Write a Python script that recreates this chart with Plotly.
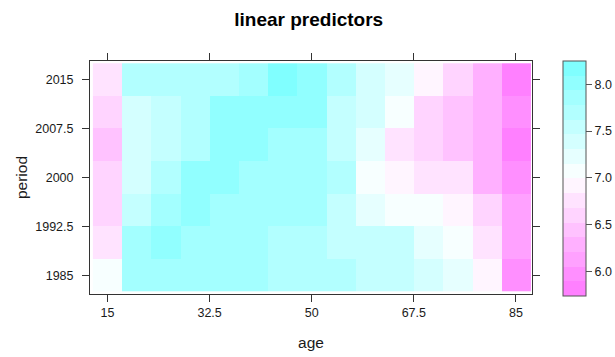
import plotly.graph_objects as go

# Age groups (columns) and periods (rows), 5-year steps
ages = [15, 20, 25, 30, 35, 40, 45, 50, 55, 60, 65, 70, 75, 80, 85]
periods = [1985, 1990, 1995, 2000, 2005, 2010, 2015]

# Linear predictor values, one list per period
lp_1985 = [7.08, 7.85, 7.86, 7.87, 7.86, 7.85, 7.71, 7.70, 7.69, 7.55, 7.54, 7.38, 7.22, 6.91, 5.97]
lp_1990 = [6.77, 7.86, 8.01, 7.85, 7.86, 7.86, 7.70, 7.69, 7.55, 7.54, 7.53, 7.23, 7.07, 6.76, 6.14]
lp_1995 = [6.61, 7.55, 7.85, 8.02, 7.86, 7.85, 7.86, 7.84, 7.54, 7.23, 7.08, 7.07, 6.92, 6.60, 6.13]
lp_2000 = [6.60, 7.39, 7.70, 8.03, 8.01, 7.86, 7.85, 7.85, 7.69, 7.07, 6.93, 6.77, 6.75, 6.29, 5.99]
lp_2005 = [6.45, 7.38, 7.54, 7.70, 8.01, 8.02, 7.85, 7.86, 7.55, 7.22, 6.76, 6.61, 6.44, 6.30, 5.80]
lp_2010 = [6.61, 7.39, 7.55, 7.71, 8.02, 8.03, 8.01, 8.02, 7.54, 7.38, 7.08, 6.60, 6.45, 6.29, 5.98]
lp_2015 = [6.76, 7.70, 7.71, 7.69, 7.70, 7.86, 8.25, 8.03, 7.70, 7.39, 7.23, 6.92, 6.61, 6.28, 5.74]

z = [lp_1985, lp_1990, lp_1995, lp_2000, lp_2005, lp_2010, lp_2015]

# Colour key: 16 equal intervals across the data range, cm.colors style
n_int = 16
zmin = min(min(r) for r in z)
zmax = max(max(r) for r in z)


def palette(n=100):
    # magenta -> white -> cyan ramp
    k = n // 2
    cols = []
    for j in range(k):
        s = 0.5 - j * (0.49 / (k - 1))
        cols.append((255, round(255 * (1 - s)), 255))
    for j in range(k):
        s = 0.01 + j * (0.49 / (k - 1))
        cols.append((round(255 * (1 - s)), 255, 255))
    return cols


pal = palette(100)
picked = [pal[int(1 + i * 99 / (n_int - 1)) - 1] for i in range(n_int)]
colorscale = []
for i, (r, g, b) in enumerate(picked):
    c = f"rgb({r},{g},{b})"
    colorscale.append([i / n_int, c])
    colorscale.append([(i + 1) / n_int, c])

FONT = "Liberation Sans, Arial, sans-serif"
INK = "#1a1a1a"

# plot area in pixels
W, H = 615, 357
L, R, T, B = 90, 83, 61, 63
plot_w = W - L - R
plot_h = H - T - B

fig = go.Figure(
    go.Heatmap(
        x=ages,
        y=periods,
        z=z,
        zmin=zmin,
        zmax=zmax,
        colorscale=colorscale,
        colorbar=dict(
            x=(562.5 - L) / plot_w,
            xanchor="left",
            y=(H - B - 178.3) / plot_h,
            yanchor="middle",
            thickness=23,
            lenmode="pixels",
            len=235,
            xpad=0,
            ypad=0,
            outlinewidth=1,
            outlinecolor="#555555",
            ticks="outside",
            ticklen=6,
            tickcolor="#555555",
            tickvals=[6.0, 6.5, 7.0, 7.5, 8.0],
            ticktext=["6.0", "6.5", "7.0", "7.5", "8.0"],
            tickfont=dict(family=FONT, size=12.5, color=INK),
        ),
        hovertemplate="age %{x}<br>period %{y}<br>%{z}<extra></extra>",
    )
)

axis_common = dict(
    showline=True,
    linecolor="#333333",
    linewidth=1,
    mirror="ticks",
    ticks="outside",
    ticklen=7,
    tickcolor="#333333",
    showgrid=False,
    zeroline=False,
    tickfont=dict(family=FONT, size=12.5, color=INK),
)

fig.update_xaxes(
    range=[12.0, 87.75],
    tickvals=[15, 32.5, 50, 67.5, 85],
    ticktext=["15", "32.5", "50", "67.5", "85"],
    title=dict(text="age", font=dict(family=FONT, size=15.5, color=INK), standoff=18),
    **axis_common,
)
fig.update_yaxes(
    range=[1982.15, 2017.85],
    tickvals=[1985, 1992.5, 2000, 2007.5, 2015],
    ticktext=["1985", "1992.5", "2000", "2007.5", "2015"],
    ticklabelstandoff=6,
    title=dict(text="period", font=dict(family=FONT, size=15.5, color=INK), standoff=3),
    **axis_common,
)

fig.update_layout(
    width=W,
    height=H,
    margin=dict(l=L, r=R, t=T, b=B, autoexpand=False),
    paper_bgcolor="white",
    plot_bgcolor="white",
    title=dict(
        text="<b>linear predictors</b>",
        x=0.502,
        xanchor="center",
        xref="container",
        y=1 - 19 / H,
        yanchor="middle",
        yref="container",
        font=dict(family=FONT, size=19, color="black"),
    ),
)

fig.write_html("out.html")
